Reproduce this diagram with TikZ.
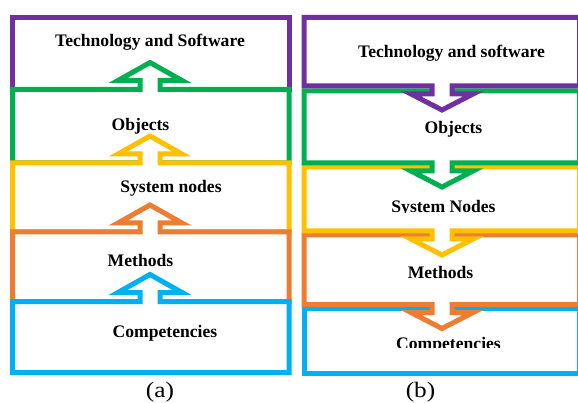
\documentclass[tikz,border=0pt]{standalone}
\usepackage{fontspec}
\setmainfont{Liberation Serif}
\definecolor{cpurple}{HTML}{7030A0}
\definecolor{cgreen}{HTML}{00B050}
\definecolor{cyellow}{HTML}{FFC000}
\definecolor{corange}{HTML}{ED7D31}
\definecolor{cblue}{HTML}{00B0F0}
\tikzset{
  layer/.style={draw=#1, fill=white, line width=5pt, miter limit=10},
  lbl/.style={anchor=base, inner sep=0pt, font=\fontsize{17.6}{20}\selectfont\bfseries},
  subcaption/.style={anchor=base, inner sep=0pt, xscale=1.15, font=\fontsize{22}{24}\selectfont},
}
% up-box: colour, top, bottom
\newcommand{\UpLayer}[3]{%
  \draw[layer=#1] (12.5,#3) -- (12.5,#2) -- (140,#2) -- (140,#2-9) -- (118,#2-9)
    -- (150,#2-27) -- (182,#2-9) -- (160,#2-9) -- (160,#2) -- (289,#2) -- (289,#3) -- cycle;}
\newcommand{\TopLayerL}[3]{%
  \draw[layer=#1] (12.5,#3) -- (12.5,#2) -- (289,#2) -- (289,#3) -- cycle;}
% down-box: colour, top, bottom
\newcommand{\DownLayer}[3]{%
  \draw[layer=#1] (304,#2) -- (579.5,#2) -- (579.5,#3) -- (452,#3) -- (452,#3+8) -- (473,#3+8)
    -- (442,#3+24) -- (411,#3+8) -- (432,#3+8) -- (432,#3) -- (304,#3) -- cycle;}
\newcommand{\BottomLayerR}[3]{%
  \draw[layer=#1] (304,#2) -- (579.5,#2) -- (579.5,#3) -- (304,#3) -- cycle;}
\begin{document}
\begin{tikzpicture}[x=1pt,y=-1pt]
\useasboundingbox (0,0) rectangle (578,403);
% ---------- (a) ----------
\TopLayerL{cpurple}{17.5}{89.5}
\UpLayer{cgreen}{89.5}{163}
\UpLayer{cyellow}{163}{232}
\UpLayer{corange}{232}{301.5}
\UpLayer{cblue}{301.5}{372.5}
\node[lbl] (a1) at (150,47) {Technology and Software};
\node[lbl] (a2) at (140.5,131) {Objects};
\node[lbl] (a3) at (171,193) {System nodes};
\node[lbl] (a4) at (140.5,266) {Methods};
\node[lbl] (a5) at (165,337) {Competencies};
\node[subcaption] (ca) at (160,397) {(a)};
% ---------- (b) ----------
\BottomLayerR{cblue}{308}{373}
\DownLayer{corange}{235}{304.5}
\DownLayer{cyellow}{167}{231}
\DownLayer{cgreen}{91}{163}
\DownLayer{cpurple}{17.5}{86}
\node[lbl] (b1) at (451.5,58) {Technology and software};
\node[lbl] (b2) at (453.5,134) {Objects};
\begin{scope}
  \clip (300,190) rectangle (578,212.5);
  \node[lbl] (b3) at (443.5,213) {System Nodes};
\end{scope}
\begin{scope}
  \clip (300,255) rectangle (578,279);
  \node[lbl] (b4) at (440.5,279) {Methods};
\end{scope}
\begin{scope}
  \clip (300,320) rectangle (578,347.5);
  \node[lbl] (b5) at (448.5,349) {Competencies};
\end{scope}
\node[subcaption] (cb) at (420.5,397) {(b)};
\end{tikzpicture}
\end{document}
